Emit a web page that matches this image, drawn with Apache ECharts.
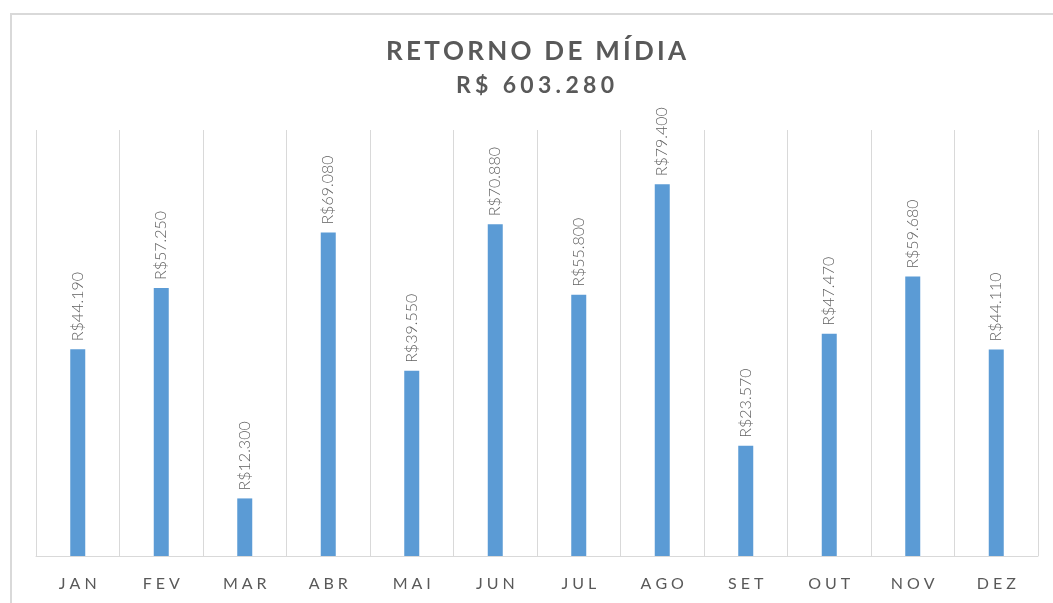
<!DOCTYPE html>
<html>
<head>
<meta charset="utf-8">
<script src="https://cdn.jsdelivr.net/npm/echarts@6/dist/echarts.min.js"></script>
<style>
  html, body { margin: 0; padding: 0; background: #fff; }
  #frame {
    position: absolute; left: 10px; top: 13px; width: 1043px; height: 590px;
    border-left: 2px solid #d9d9d9; border-top: 2px solid #d9d9d9;
  }
  #myChart { position: absolute; left: 0; top: 0; width: 1053px; height: 603px; }
</style>
</head>
<body>
<div id="frame"></div>
<div id="myChart"></div>
<script>
  // meses e retorno de mídia (R$)
  var months = ['JAN', 'FEV', 'MAR', 'ABR', 'MAI', 'JUN', 'JUL', 'AGO', 'SET', 'OUT', 'NOV', 'DEZ']
  var retorno = [44190, 57250, 12300, 69080, 39550, 70880, 55800, 79400, 23570, 47470, 59680, 44110]
  var totalText = 'R$ 603.280'

  var gray = '#595959'

  function spaced(s, gap) {
    return s.split('').join(gap)
  }

  function brl(v) {
    return 'R$' + String(v).replace(/\B(?=(\d{3})+(?!\d))/g, '.')
  }

  var myChart = echarts.init(document.getElementById('myChart'))

  var option = {
    animation: false,
    title: [{
      text: spaced('RETORNO DE MÍDIA', '\u2009'),
      left: 386,
      top: 39,
      padding: 0,
      textStyle: {
        fontFamily: 'Lato',
        fontWeight: 'bold',
        fontSize: 26,
        color: gray
      }
    }, {
      text: spaced(totalText, '\u2009\u200A'),
      left: 456,
      top: 74,
      padding: 0,
      textStyle: {
        fontFamily: 'Lato',
        fontWeight: 'bold',
        fontSize: 23,
        color: gray
      }
    }],
    grid: {
      left: 36,
      right: 15,
      top: 130,
      bottom: 47
    },
    xAxis: {
      type: 'category',
      data: months,
      axisLine: { lineStyle: { color: '#d9d9d9', width: 1 } },
      axisTick: { show: false },
      splitLine: { show: true, lineStyle: { color: '#d9d9d9', width: 1 } },
      axisLabel: {
        margin: 20,
        fontFamily: 'Lato',
        fontSize: 16,
        color: gray,
        formatter: function (v) { return spaced(v, '\u2009\u2009') }
      }
    },
    yAxis: {
      type: 'value',
      min: 0,
      max: 91000,
      show: false,
      splitLine: { show: false }
    },
    series: [{
      name: 'Retorno',
      type: 'bar',
      barWidth: 15,
      itemStyle: { color: '#5B9BD5' },
      label: {
        show: true,
        position: 'top',
        rotate: 90,
        align: 'left',
        verticalAlign: 'middle',
        distance: 8,
        fontFamily: 'Lato',
        fontWeight: 300,
        fontSize: 16,
        color: '#5f5f5f',
        formatter: function (p) { return brl(p.value) }
      },
      data: retorno
    }]
  }

  myChart.setOption(option)
</script>
</body>
</html>
